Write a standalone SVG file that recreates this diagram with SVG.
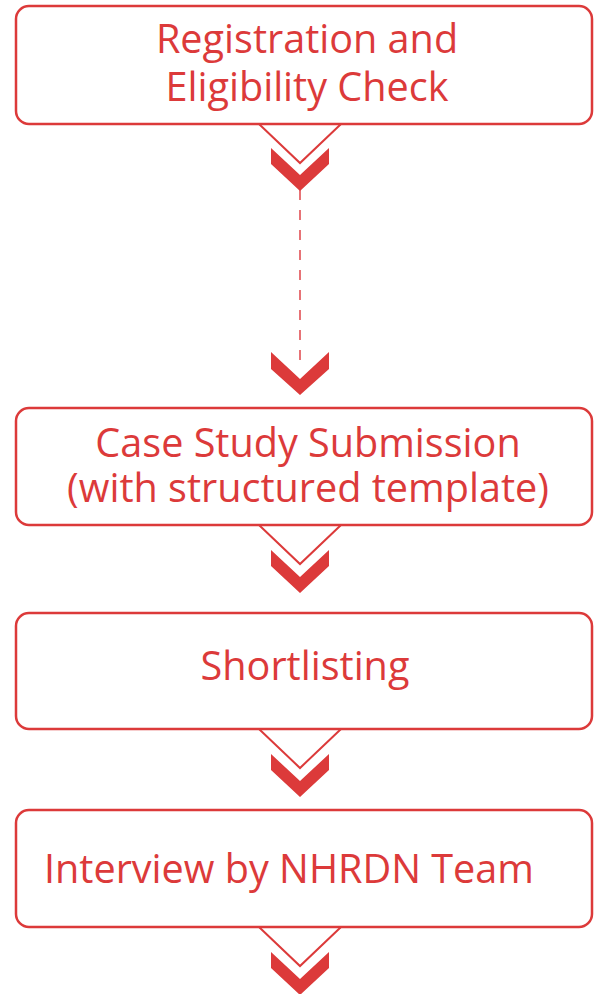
<svg xmlns="http://www.w3.org/2000/svg" width="600" height="994" viewBox="0 0 600 994">
<style>
.box{fill:#fff;stroke:#dc3a3a;stroke-width:2.5}
.t{font-family:"Open Sans","Noto Sans",sans-serif;font-size:39.6px;fill:#dc3a3a;text-anchor:middle}
.v{fill:none;stroke:#dc3a3a;stroke-width:2}
.chev{fill:#dc3a3a}
.dash{stroke:#e0454a;stroke-width:1.5;stroke-dasharray:10 10}
</style>
<rect width="600" height="994" fill="#fff"/>
<g id="connectors">
<path class="v" d="M259,124 L300,163 L341,124"/>
<polygon class="chev" points="271,148 300,175 329,148 329,164 300,191 271,164"/>
<line class="dash" x1="300" y1="190" x2="300" y2="366"/>
<polygon class="chev" points="271,352 300,379 329,352 329,369 300,395 271,369"/>
<path class="v" d="M259,525 L300,564 L341,525"/>
<polygon class="chev" points="271,550 300,577 329,550 329,566 300,593 271,566"/>
<path class="v" d="M259,729 L300,768 L341,729"/>
<polygon class="chev" points="271,754 300,781 329,754 329,770 300,797 271,770"/>
<path class="v" d="M259,927 L300,966 L341,927"/>
<polygon class="chev" points="271,952 300,979 329,952 329,968 300,995 271,968"/>
</g>
<g id="node1">
<rect class="box" x="16" y="6" width="576" height="118" rx="13"/>
<text class="t" x="307" y="53">Registration and</text>
<text class="t" x="307" y="101">Eligibility Check</text>
</g>
<g id="node2">
<rect class="box" x="16" y="408" width="576" height="117" rx="13"/>
<text class="t" x="308" y="457">Case Study Submission</text>
<text class="t" x="308" y="502">(with structured template)</text>
</g>
<g id="node3">
<rect class="box" x="16" y="613" width="576" height="116" rx="13"/>
<text class="t" x="305" y="680">Shortlisting</text>
</g>
<g id="node4">
<rect class="box" x="16" y="810" width="576" height="117" rx="13"/>
<text class="t" x="289" y="883">Interview by NHRDN Team</text>
</g>
</svg>
